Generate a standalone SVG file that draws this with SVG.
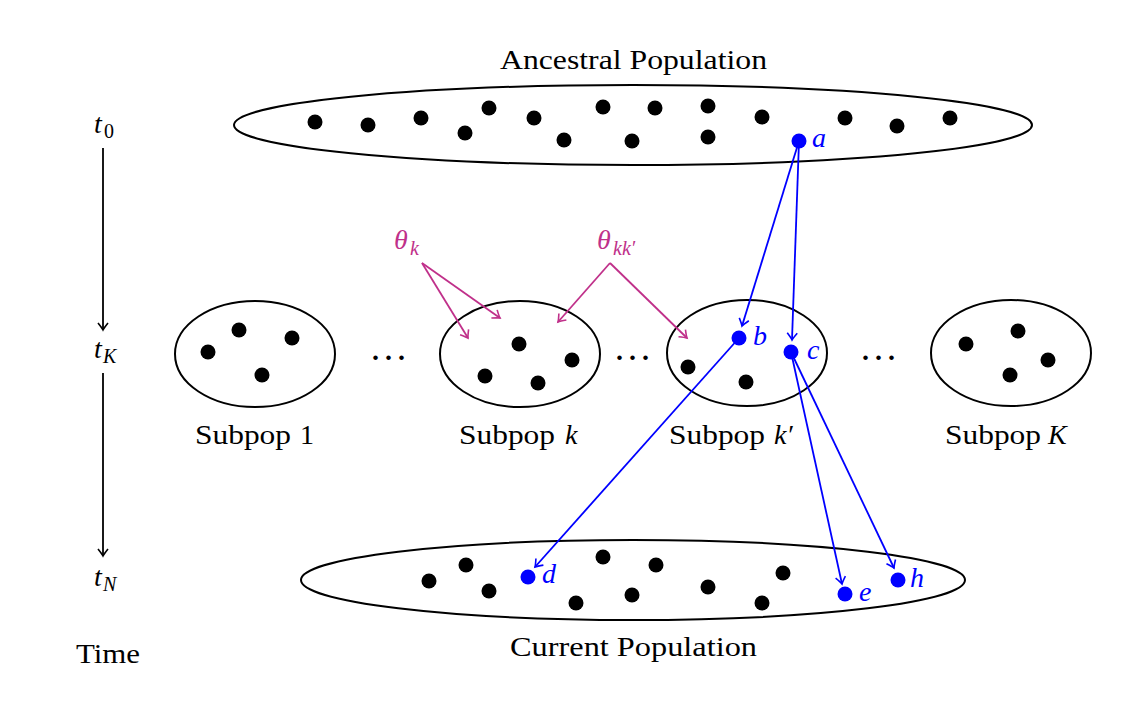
<svg xmlns="http://www.w3.org/2000/svg" width="1136" height="710" viewBox="0 0 1136 710">
<style>
  .pop { fill: none; stroke: #000; stroke-width: 2; }
  .dot { fill: #000; }
  .bdot { fill: #0000ff; }
  .txt { font-family: "Liberation Serif", "DejaVu Serif", serif; font-size: 28px; fill: #000; }
  .it { font-family: "Liberation Serif", "DejaVu Serif", serif; font-style: italic; font-size: 28px; }
  .sub { font-family: "Liberation Serif", "DejaVu Serif", serif; font-size: 20px; }
  .blue { fill: #0000ff; }
  .mag { fill: #c0308a; }
  .cb { stroke: #0000ff; stroke-width: 1.8; fill: none; marker-end: url(#ab); }
  .cm { stroke: #c0308a; stroke-width: 1.8; fill: none; marker-end: url(#am); }
  .ck { stroke: #000; stroke-width: 1.8; fill: none; marker-end: url(#ak); }
</style>
<defs>
  <marker id="ab" markerUnits="userSpaceOnUse" markerWidth="20" markerHeight="20" viewBox="-10 -10 20 20" refX="0" refY="0" orient="auto">
    <path d="M -7 -5 Q -2 -1 0 0 Q -2 1 -7 5" fill="none" stroke="#0000ff" stroke-width="1.6"/>
  </marker>
  <marker id="am" markerUnits="userSpaceOnUse" markerWidth="20" markerHeight="20" viewBox="-10 -10 20 20" refX="0" refY="0" orient="auto">
    <path d="M -7 -5 Q -2 -1 0 0 Q -2 1 -7 5" fill="none" stroke="#c0308a" stroke-width="1.6"/>
  </marker>
  <marker id="ak" markerUnits="userSpaceOnUse" markerWidth="20" markerHeight="20" viewBox="-10 -10 20 20" refX="0" refY="0" orient="auto">
    <path d="M -7 -5 Q -2 -1 0 0 Q -2 1 -7 5" fill="none" stroke="#000" stroke-width="1.6"/>
  </marker>
</defs>
<rect width="1136" height="710" fill="#ffffff"/>

<g id="time-axis">
  <text class="it" x="94" y="133" fill="#000">t</text><text class="sub" x="104" y="138" fill="#000">0</text>
  <text class="it" x="94" y="358" fill="#000">t</text><text class="sub" x="103" y="363" fill="#000" font-style="italic">K</text>
  <text class="it" x="94" y="586" fill="#000">t</text><text class="sub" x="103" y="591" fill="#000" font-style="italic">N</text>
  <text class="txt" x="76" y="663" textLength="64" lengthAdjust="spacingAndGlyphs">Time</text>
</g>

<g id="ancestral">
  <ellipse class="pop" cx="633" cy="125" rx="399" ry="40"/>
  <text class="txt" x="500" y="69" textLength="267" lengthAdjust="spacingAndGlyphs">Ancestral Population</text>
  <circle class="dot" cx="315" cy="122" r="7.5"/>
  <circle class="dot" cx="368" cy="125" r="7.5"/>
  <circle class="dot" cx="421" cy="118" r="7.5"/>
  <circle class="dot" cx="465" cy="133" r="7.5"/>
  <circle class="dot" cx="489" cy="108" r="7.5"/>
  <circle class="dot" cx="534" cy="118" r="7.5"/>
  <circle class="dot" cx="564" cy="140" r="7.5"/>
  <circle class="dot" cx="603" cy="107" r="7.5"/>
  <circle class="dot" cx="632" cy="141" r="7.5"/>
  <circle class="dot" cx="655" cy="108" r="7.5"/>
  <circle class="dot" cx="708" cy="106" r="7.5"/>
  <circle class="dot" cx="708" cy="137" r="7.5"/>
  <circle class="dot" cx="762" cy="117" r="7.5"/>
  <circle class="dot" cx="845" cy="118" r="7.5"/>
  <circle class="dot" cx="897" cy="126" r="7.5"/>
  <circle class="dot" cx="950" cy="118" r="7.5"/>
  <circle class="bdot" cx="799" cy="141" r="7.5"/>
  <text class="it blue" x="812" y="147">a</text>
</g>

<g id="subpop-1">
  <ellipse class="pop" cx="255" cy="354" rx="80" ry="53"/>
  <circle class="dot" cx="208" cy="352" r="7.5"/>
  <circle class="dot" cx="239" cy="330" r="7.5"/>
  <circle class="dot" cx="292" cy="338" r="7.5"/>
  <circle class="dot" cx="262" cy="375" r="7.5"/>
  <text class="txt" x="195" y="444" textLength="96" lengthAdjust="spacingAndGlyphs">Subpop</text>
  <text class="txt" x="300" y="444">1</text>
</g>

<g id="ellipsis-1"><text class="txt" x="372" y="360" letter-spacing="6" font-weight="bold">...</text></g>

<g id="subpop-k">
  <ellipse class="pop" cx="520" cy="354" rx="80" ry="53"/>
  <circle class="dot" cx="519" cy="344" r="7.5"/>
  <circle class="dot" cx="572" cy="360" r="7.5"/>
  <circle class="dot" cx="485" cy="376" r="7.5"/>
  <circle class="dot" cx="538" cy="383" r="7.5"/>
  <text class="txt" x="459" y="444" textLength="96" lengthAdjust="spacingAndGlyphs">Subpop</text>
  <text class="it" x="565" y="444" fill="#000">k</text>
</g>

<g id="ellipsis-2"><text class="txt" x="616" y="360" letter-spacing="6" font-weight="bold">...</text></g>

<g id="subpop-kprime">
  <ellipse class="pop" cx="747" cy="353" rx="80" ry="53"/>
  <circle class="dot" cx="688" cy="367" r="7.5"/>
  <circle class="dot" cx="746" cy="382" r="7.5"/>
  <circle class="bdot" cx="739" cy="338" r="7.5"/>
  <circle class="bdot" cx="791" cy="352" r="7.5"/>
  <text class="it blue" x="753" y="345">b</text>
  <text class="it blue" x="807" y="359">c</text>
  <text class="txt" x="669" y="444" textLength="96" lengthAdjust="spacingAndGlyphs">Subpop</text>
  <text class="it" x="774" y="444" fill="#000">k′</text>
</g>

<g id="ellipsis-3"><text class="txt" x="862" y="360" letter-spacing="6" font-weight="bold">...</text></g>

<g id="subpop-K">
  <ellipse class="pop" cx="1011" cy="353" rx="80" ry="53"/>
  <circle class="dot" cx="966" cy="344" r="7.5"/>
  <circle class="dot" cx="1018" cy="331" r="7.5"/>
  <circle class="dot" cx="1048" cy="360" r="7.5"/>
  <circle class="dot" cx="1010" cy="375" r="7.5"/>
  <text class="txt" x="945" y="444" textLength="96" lengthAdjust="spacingAndGlyphs">Subpop</text>
  <text class="it" x="1048" y="444" fill="#000">K</text>
</g>

<g id="current">
  <ellipse class="pop" cx="633" cy="580" rx="332" ry="40"/>
  <circle class="dot" cx="429" cy="581" r="7.5"/>
  <circle class="dot" cx="466" cy="565" r="7.5"/>
  <circle class="dot" cx="489" cy="591" r="7.5"/>
  <circle class="dot" cx="576" cy="603" r="7.5"/>
  <circle class="dot" cx="603" cy="557" r="7.5"/>
  <circle class="dot" cx="632" cy="595" r="7.5"/>
  <circle class="dot" cx="656" cy="565" r="7.5"/>
  <circle class="dot" cx="708" cy="587" r="7.5"/>
  <circle class="dot" cx="762" cy="603" r="7.5"/>
  <circle class="dot" cx="783" cy="573" r="7.5"/>
  <circle class="bdot" cx="528" cy="577" r="7.5"/>
  <circle class="bdot" cx="845" cy="594" r="7.5"/>
  <circle class="bdot" cx="898" cy="580" r="7.5"/>
  <text class="it blue" x="542" y="583">d</text>
  <text class="it blue" x="859" y="601">e</text>
  <text class="it blue" x="910" y="587">h</text>
  <text class="txt" x="510" y="656" textLength="247" lengthAdjust="spacingAndGlyphs">Current Population</text>
</g>

<g id="theta-labels">
  <text class="it mag" x="394" y="249">θ</text><text class="sub mag" x="410" y="255" font-style="italic">k</text>
  <text class="it mag" x="597" y="249">θ</text><text class="sub mag" x="613" y="255" font-style="italic">kk′</text>
</g>

<g id="connectors">
  <line class="ck" x1="103" y1="148" x2="103" y2="330"/>
  <line class="ck" x1="103" y1="373" x2="103" y2="556"/>
  <line class="cm" x1="422" y1="263" x2="468" y2="338"/>
  <line class="cm" x1="422" y1="263" x2="500" y2="318"/>
  <line class="cm" x1="610" y1="263" x2="558" y2="322"/>
  <line class="cm" x1="610" y1="263" x2="687" y2="338"/>
  <line class="cb" x1="799" y1="141" x2="742" y2="326"/>
  <line class="cb" x1="799" y1="141" x2="792" y2="340"/>
  <line class="cb" x1="739" y1="338" x2="535" y2="567"/>
  <line class="cb" x1="791" y1="352" x2="842" y2="584"/>
  <line class="cb" x1="791" y1="352" x2="894" y2="568"/>
</g>
</svg>
